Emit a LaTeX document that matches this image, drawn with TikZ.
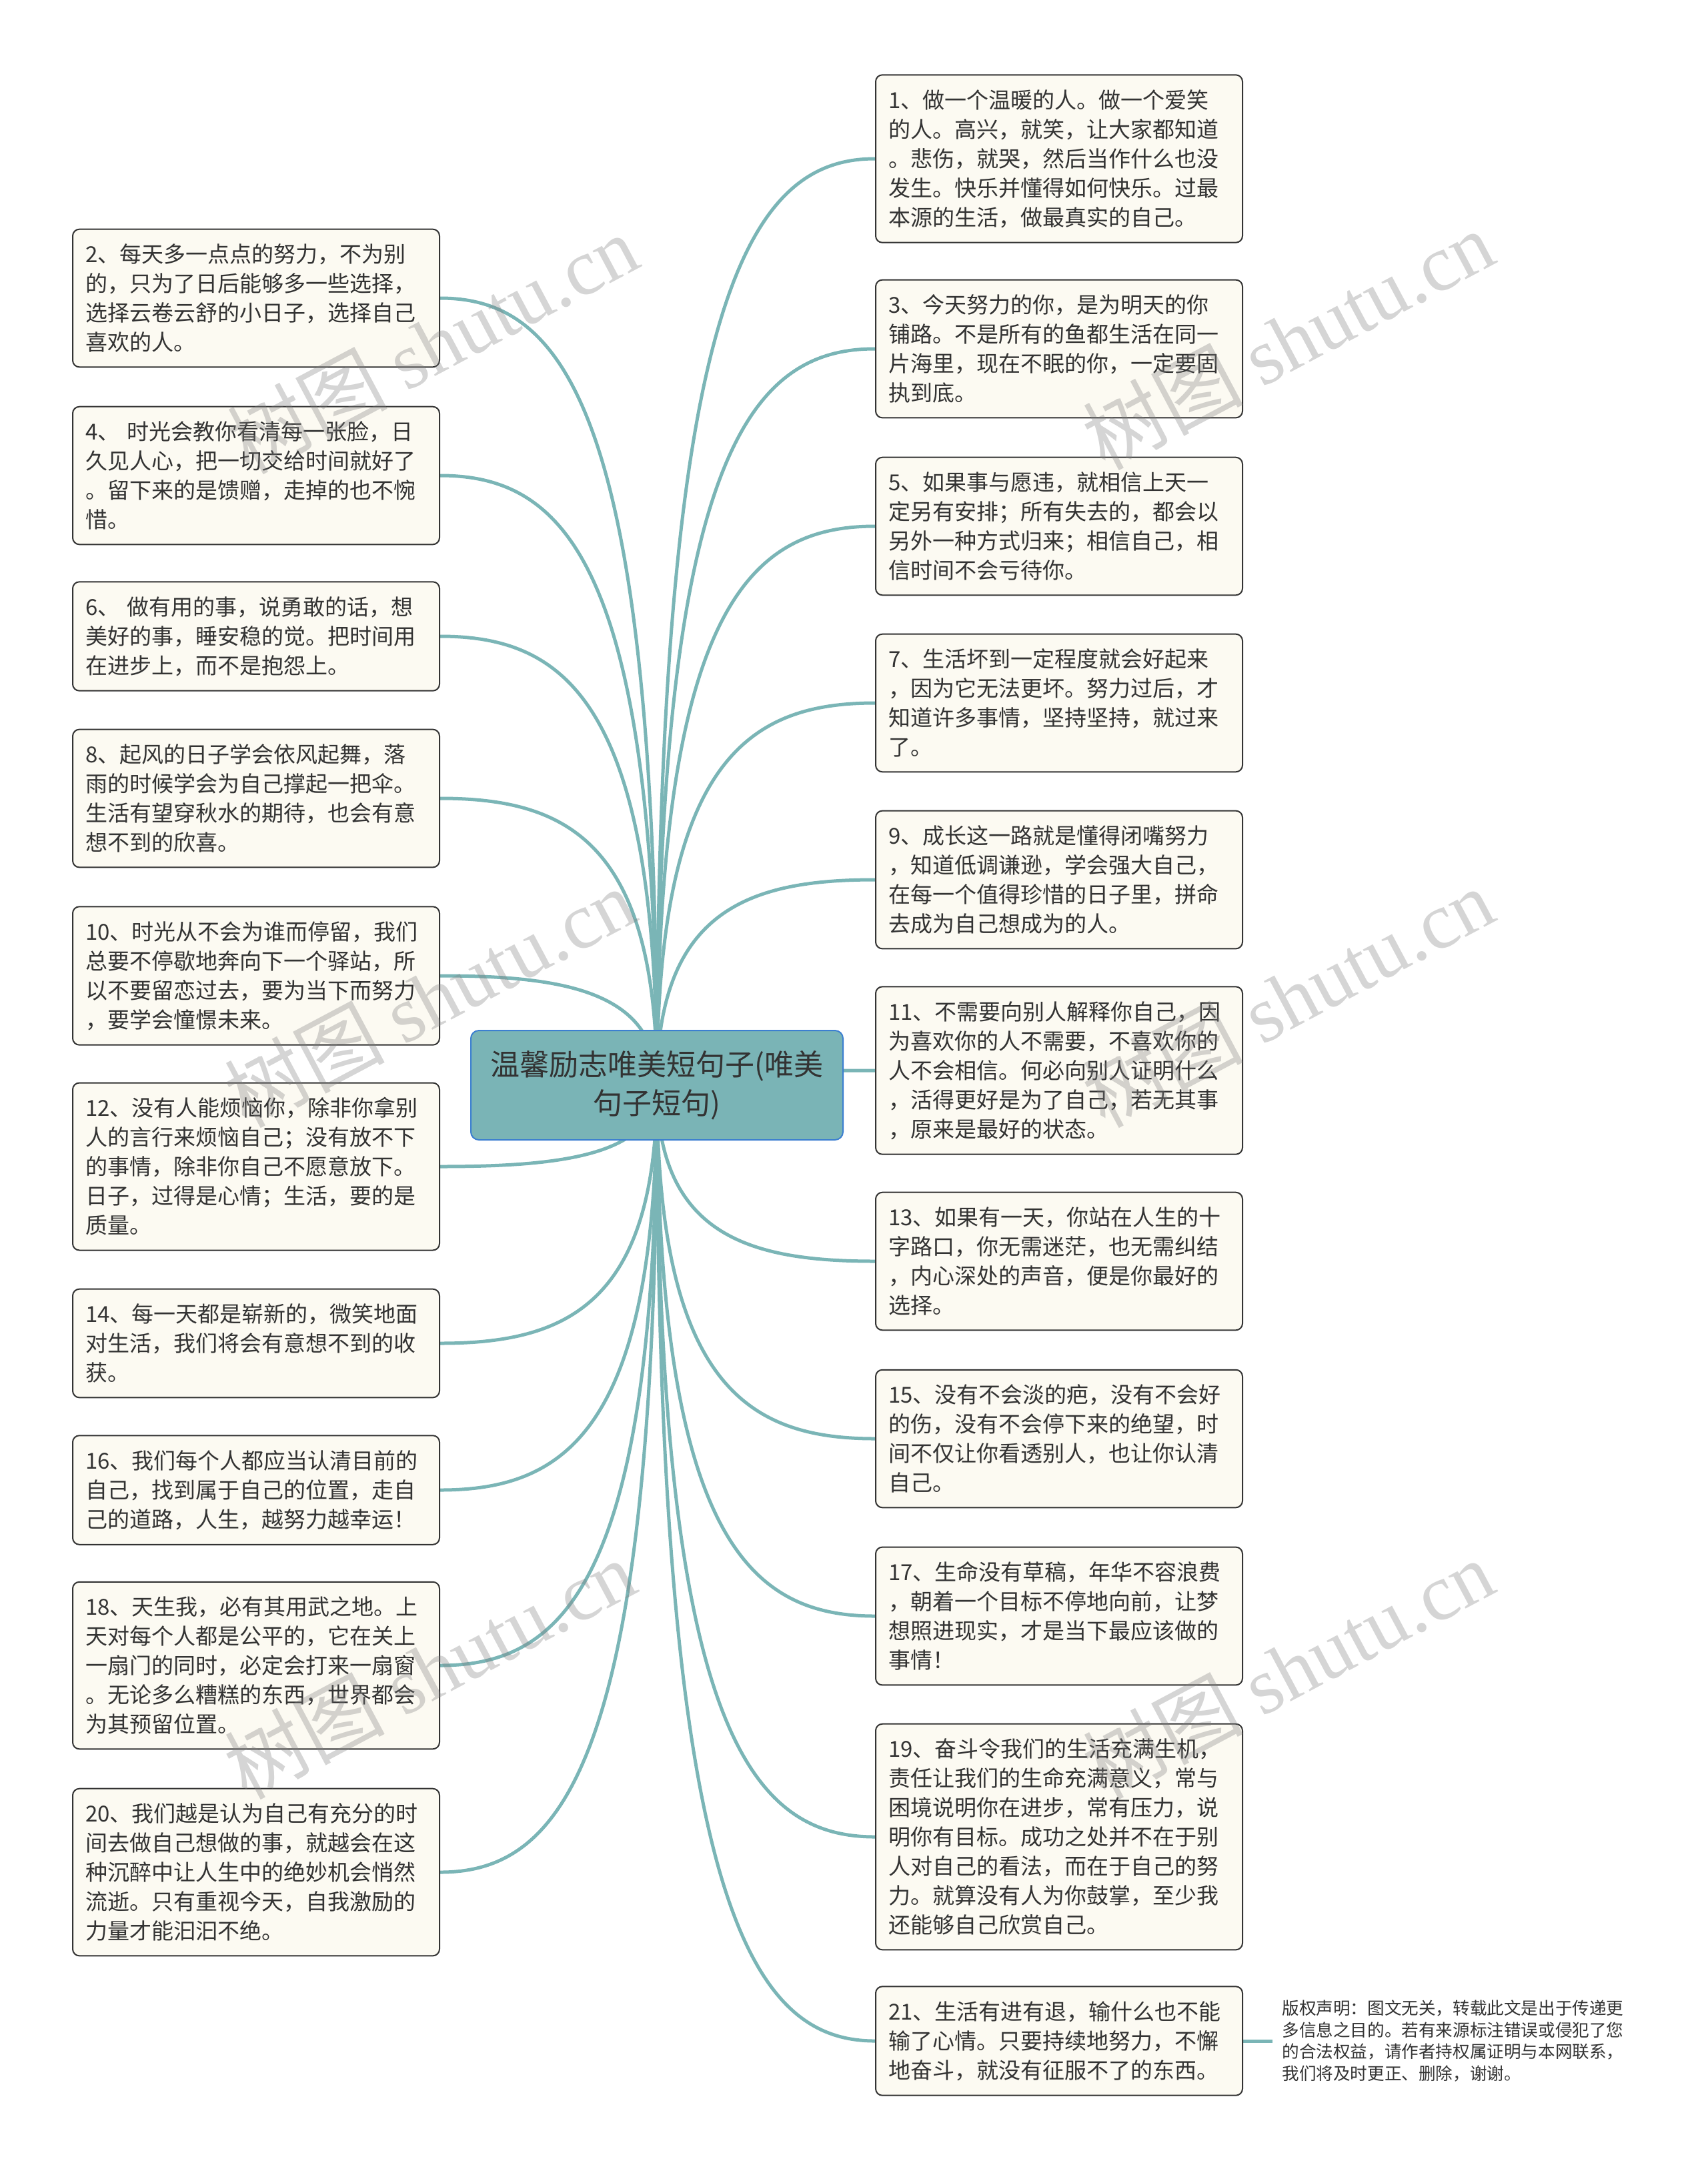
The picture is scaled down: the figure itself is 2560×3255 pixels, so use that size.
\documentclass[tikz,border=0pt]{standalone}
\usepackage{fontspec}
\setmainfont{Noto Sans CJK SC}
\newfontfamily\wmlatin{Liberation Serif}
\usetikzlibrary{backgrounds,calc}
\definecolor{spokecol}{HTML}{7AB5B6}
\definecolor{rootfill}{HTML}{7AB4B6}
\definecolor{rootedge}{HTML}{3C7FD0}
\definecolor{leaffill}{HTML}{FCFAF2}
\definecolor{inkcol}{HTML}{333333}
\tikzset{
  leaf/.style={draw=inkcol, line width=1pt, fill=leaffill, rounded corners=5pt,
    text=inkcol, align=left, text width=256pt, inner xsep=9.5pt, inner ysep=11pt,
    font=\fontsize{16.5}{22}\selectfont},
  rootbox/.style={draw=rootedge, line width=1pt, fill=rootfill, rounded corners=6pt,
    text=inkcol, align=center, minimum width=279pt, minimum height=82pt,
    font=\fontsize{22}{29}\selectfont},
  notebox/.style={text=inkcol, align=left, text width=262pt, inner xsep=7pt,
    font=\fontsize{12.8}{16.3}\selectfont},
  spoke/.style={draw=spokecol, line width=2.5pt,
    to path={.. controls ($(\tikztostart)!0.85!(\tikztostart |- \tikztotarget)$)
      and ($(\tikztostart |- \tikztotarget)!0.42!(\tikztotarget)$) .. (\tikztotarget)}},
  wmark/.style={text=gray, opacity=0.33, rotate=28, font=\fontsize{60}{60}\selectfont}
}
\begin{document}
\begin{tikzpicture}[x=0.5pt, y=-0.5pt]
\useasboundingbox (0,0) rectangle (2560,3255);
% centre
\node[rootbox] (root) at (985,1627) {温馨励志唯美短句子(唯美\\句子短句)};
% right column
\node[leaf, anchor=west] (n1) at (1312,238) {1、做一个温暖的人。做一个爱笑\\的人。高兴，就笑，让大家都知道\\。悲伤，就哭，然后当作什么也没\\发生。快乐并懂得如何快乐。过最\\本源的生活，做最真实的自己。};
\node[leaf, anchor=west] (n3) at (1312,523) {3、今天努力的你，是为明天的你\\铺路。不是所有的鱼都生活在同一\\片海里，现在不眠的你，一定要固\\执到底。};
\node[leaf, anchor=west] (n5) at (1312,789) {5、如果事与愿违，就相信上天一\\定另有安排；所有失去的，都会以\\另外一种方式归来；相信自己，相\\信时间不会亏待你。};
\node[leaf, anchor=west] (n7) at (1312,1054) {7、生活坏到一定程度就会好起来\\，因为它无法更坏。努力过后，才\\知道许多事情，坚持坚持，就过来\\了。};
\node[leaf, anchor=west] (n9) at (1312,1319) {9、成长这一路就是懂得闭嘴努力\\，知道低调谦逊，学会强大自己，\\在每一个值得珍惜的日子里，拼命\\去成为自己想成为的人。};
\node[leaf, anchor=west] (n11) at (1312,1605) {11、不需要向别人解释你自己，因\\为喜欢你的人不需要，不喜欢你的\\人不会相信。何必向别人证明什么\\，活得更好是为了自己，若无其事\\，原来是最好的状态。};
\node[leaf, anchor=west] (n13) at (1312,1891) {13、如果有一天，你站在人生的十\\字路口，你无需迷茫，也无需纠结\\，内心深处的声音，便是你最好的\\选择。};
\node[leaf, anchor=west] (n15) at (1312,2157) {15、没有不会淡的疤，没有不会好\\的伤，没有不会停下来的绝望，时\\间不仅让你看透别人，也让你认清\\自己。};
\node[leaf, anchor=west] (n17) at (1312,2423) {17、生命没有草稿，年华不容浪费\\，朝着一个目标不停地向前，让梦\\想照进现实，才是当下最应该做的\\事情！};
\node[leaf, anchor=west] (n19) at (1312,2754) {19、奋斗令我们的生活充满生机，\\责任让我们的生命充满意义，常与\\困境说明你在进步，常有压力，说\\明你有目标。成功之处并不在于别\\人对自己的看法，而在于自己的努\\力。就算没有人为你鼓掌，至少我\\还能够自己欣赏自己。};
\node[leaf, anchor=west] (n21) at (1312,3060) {21、生活有进有退，输什么也不能\\输了心情。只要持续地努力，不懈\\地奋斗，就没有征服不了的东西。};
% left column
\node[leaf, anchor=east] (n2) at (660,447) {2、每天多一点点的努力，不为别\\的，只为了日后能够多一些选择，\\选择云卷云舒的小日子，选择自己\\喜欢的人。};
\node[leaf, anchor=east] (n4) at (660,713) {4、 时光会教你看清每一张脸，日\\久见人心，把一切交给时间就好了\\。留下来的是馈赠，走掉的也不惋\\惜。};
\node[leaf, anchor=east] (n6) at (660,954) {6、 做有用的事，说勇敢的话，想\\美好的事，睡安稳的觉。把时间用\\在进步上，而不是抱怨上。};
\node[leaf, anchor=east] (n8) at (660,1197) {8、起风的日子学会依风起舞，落\\雨的时候学会为自己撑起一把伞。\\生活有望穿秋水的期待，也会有意\\想不到的欣喜。};
\node[leaf, anchor=east] (n10) at (660,1463) {10、时光从不会为谁而停留，我们\\总要不停歇地奔向下一个驿站，所\\以不要留恋过去，要为当下而努力\\，要学会憧憬未来。};
\node[leaf, anchor=east] (n12) at (660,1749) {12、没有人能烦恼你，除非你拿别\\人的言行来烦恼自己；没有放不下\\的事情，除非你自己不愿意放下。\\日子，过得是心情；生活，要的是\\质量。};
\node[leaf, anchor=east] (n14) at (660,2014) {14、每一天都是崭新的，微笑地面\\对生活，我们将会有意想不到的收\\获。};
\node[leaf, anchor=east] (n16) at (660,2234) {16、我们每个人都应当认清目前的\\自己，找到属于自己的位置，走自\\己的道路，人生，越努力越幸运！};
\node[leaf, anchor=east] (n18) at (660,2497) {18、天生我，必有其用武之地。上\\天对每个人都是公平的，它在关上\\一扇门的同时，必定会打来一扇窗\\。无论多么糟糕的东西，世界都会\\为其预留位置。};
\node[leaf, anchor=east] (n20) at (660,2807) {20、我们越是认为自己有充分的时\\间去做自己想做的事，就越会在这\\种沉醉中让人生中的绝妙机会悄然\\流逝。只有重视今天，自我激励的\\力量才能汩汩不绝。};
% note beside 21
\node[notebox, anchor=west] (note) at (1908,3060) {版权声明：图文无关，转载此文是出于传递更\\多信息之目的。若有来源标注错误或侵犯了您\\的合法权益，请作者持权属证明与本网联系，\\我们将及时更正、删除，谢谢。};
% spokes
\begin{scope}[on background layer]
\fill[white] (0,0) rectangle (2560,3255);
\draw[spoke] (root.center) to (n1.west);
\draw[spoke] (root.center) to (n3.west);
\draw[spoke] (root.center) to (n5.west);
\draw[spoke] (root.center) to (n7.west);
\draw[spoke] (root.center) to (n9.west);
\draw[spoke] (root.center) to (n11.west);
\draw[spoke] (root.center) to (n13.west);
\draw[spoke] (root.center) to (n15.west);
\draw[spoke] (root.center) to (n17.west);
\draw[spoke] (root.center) to (n19.west);
\draw[spoke] (root.center) to (n21.west);
\draw[spoke] (root.center) to (n2.east);
\draw[spoke] (root.center) to (n4.east);
\draw[spoke] (root.center) to (n6.east);
\draw[spoke] (root.center) to (n8.east);
\draw[spoke] (root.center) to (n10.east);
\draw[spoke] (root.center) to (n12.east);
\draw[spoke] (root.center) to (n14.east);
\draw[spoke] (root.center) to (n16.east);
\draw[spoke] (root.center) to (n18.east);
\draw[spoke] (root.center) to (n20.east);
\draw[spoke] (n21.east) -- (note.west);
\end{scope}
% watermarks
\node[wmark] (wm1) at (648,515) {树图 {\wmlatin shutu.cn}};
\node[wmark] (wm2) at (1931,509) {树图 {\wmlatin shutu.cn}};
\node[wmark] (wm3) at (644,1495) {树图 {\wmlatin shutu.cn}};
\node[wmark] (wm4) at (1931,1495) {树图 {\wmlatin shutu.cn}};
\node[wmark] (wm5) at (644,2502) {树图 {\wmlatin shutu.cn}};
\node[wmark] (wm6) at (1931,2502) {树图 {\wmlatin shutu.cn}};
\end{tikzpicture}
\end{document}
